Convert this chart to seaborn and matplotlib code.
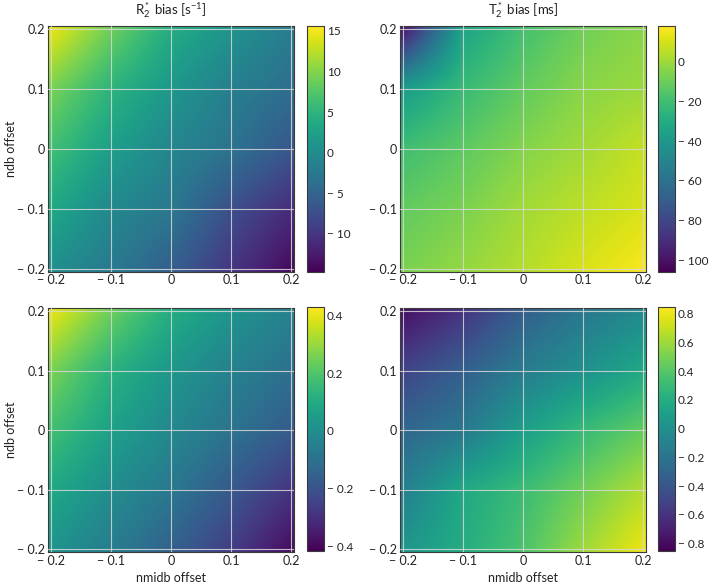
import numpy as np
import matplotlib
matplotlib.use("Agg")
import matplotlib.pyplot as plt
import seaborn as sns

# ---------------- data ----------------
# grid positions (nmidb offset along x, ndb offset along y)
nmidb_offsets = [-0.2, -0.1, 0.0, 0.1, 0.2]
ndb_offsets = [0.2, 0.1, 0.0, -0.1, -0.2]          # rows, top to bottom
axis_ticks = [-0.2, -0.1, 0.0, 0.1, 0.2]
axis_tick_labels = ["\u2212 0.2", "\u2212 0.1", "0", "0.1", "0.2"]

# R2* bias [s^-1] (top-left)
r2_bias_top = [
    [14.7, 9.0, 4.0, 1.0, -2.0],
    [9.5, 5.0, 1.4, -1.7, -3.8],
    [6.5, 2.3, -0.8, -3.2, -6.5],
    [3.5, -0.5, -2.6, -7.4, -11.0],
    [0.4, -2.3, -5.6, -10.0, -14.0],
]
# T2* bias [ms] (top-right)
t2_bias_top = [
    [-100.0, -34.0, -19.0, -9.0, -4.0],
    [-38.0, -22.0, -12.0, -4.0, -0.5],
    [-20.0, -13.0, -5.0, 0.6, 7.0],
    [-12.0, -6.8, 0.6, 5.6, 10.6],
    [-7.0, -2.0, 4.0, 10.6, 17.0],
]
# bottom-left
bias_bottom_left = [
    [0.405, 0.244, 0.109, 0.024, -0.043],
    [0.261, 0.126, 0.033, -0.043, -0.102],
    [0.177, 0.067, -0.018, -0.094, -0.170],
    [0.092, -0.001, -0.077, -0.178, -0.288],
    [0.024, -0.060, -0.153, -0.263, -0.390],
]
# bottom-right
bias_bottom_right = [
    [-0.78, -0.60, -0.34, -0.17, -0.05],
    [-0.51, -0.34, -0.14, 0.00, 0.17],
    [-0.29, -0.17, 0.10, 0.29, 0.44],
    [-0.12, 0.17, 0.31, 0.48, 0.65],
    [0.05, 0.20, 0.37, 0.60, 0.80],
]

color_ranges = [(-14.7, 15.6), (-106.0, 18.0), (-0.415, 0.43), (-0.85, 0.85)]
cbar_ticks = [
    [-10, -5, 0, 5, 10, 15],
    [-100, -80, -60, -40, -20, 0],
    [-0.4, -0.2, 0, 0.2, 0.4],
    [-0.8, -0.6, -0.4, -0.2, 0, 0.2, 0.4, 0.6, 0.8],
]
cbar_tick_labels = [
    ["\u2212 10", "\u2212 5", "0", "5", "10", "15"],
    ["\u2212 100", "\u2212 80", "\u2212 60", "\u2212 40", "\u2212 20", "0"],
    ["\u2212 0.4", "\u2212 0.2", "0", "0.2", "0.4"],
    ["\u2212 0.8", "\u2212 0.6", "\u2212 0.4", "\u2212 0.2", "0", "0.2", "0.4", "0.6", "0.8"],
]
titles = ["R$_2^*$ bias [s$^{-1}$]", "T$_2^*$ bias [ms]", None, None]
ylabel_text = "ndb offset"
xlabel_text = "nmidb offset"

# ---------------- style ----------------
sns.set_theme(style="white")
plt.rcParams["font.family"] = ["Lato", "DejaVu Sans"]
plt.rcParams["mathtext.fontset"] = "custom"
plt.rcParams["mathtext.rm"] = "Lato"
plt.rcParams["mathtext.it"] = "Lato"
cmap = sns.color_palette("viridis", as_cmap=True)

W, H = 709, 585
fig = plt.figure(figsize=(W / 100, H / 100), dpi=100)
fig.patch.set_facecolor("white")

def px_rect(x0, y0, x1, y1):
    return [x0 / W, 1 - y1 / H, (x1 - x0) / W, (y1 - y0) / H]

ax_rects = [
    px_rect(47.7, 25.7, 294.0, 271.7),
    px_rect(400.0, 25.7, 646.0, 271.7),
    px_rect(47.7, 308.0, 294.0, 552.3),
    px_rect(400.0, 308.0, 646.0, 552.3),
]
cb_rects = [
    px_rect(306.7, 26.0, 324.0, 272.0),
    px_rect(658.0, 26.0, 675.0, 272.0),
    px_rect(306.7, 306.7, 324.0, 550.7),
    px_rect(658.0, 306.7, 675.0, 550.7),
]
fields = [r2_bias_top, t2_bias_top, bias_bottom_left, bias_bottom_right]

step = nmidb_offsets[1] - nmidb_offsets[0]
extent = [nmidb_offsets[0] - step / 2, nmidb_offsets[-1] + step / 2,
          ndb_offsets[-1] - step / 2, ndb_offsets[0] + step / 2]

spine_col = "#3a3a3a"
fs = 9
for i in range(4):
    ax = fig.add_axes(ax_rects[i])
    vmin, vmax = color_ranges[i]
    im = ax.imshow(np.array(fields[i]), cmap=cmap, vmin=vmin, vmax=vmax,
                   extent=extent, origin="upper", interpolation="bilinear",
                   interpolation_stage="data", aspect="auto")
    ax.set_xlim(-0.205, 0.205)
    ax.set_ylim(-0.205, 0.205)
    ax.set_xticks(axis_ticks)
    ax.set_yticks(axis_ticks)
    ax.set_xticklabels(axis_tick_labels)
    ax.set_yticklabels(axis_tick_labels)
    ax.grid(True, color="#d8d8d8", linewidth=0.8, alpha=0.85)
    ax.set_axisbelow(False)
    ax.tick_params(direction="in", length=3, width=0.6, color="#bbbbbb",
                   labelsize=fs, pad=2, labelcolor="#222222")
    for s in ax.spines.values():
        s.set_color(spine_col)
        s.set_linewidth(0.8)
    if titles[i]:
        ax.set_title(titles[i], fontsize=fs + 0.5, pad=8, color="#222222")
    if i in (0, 2):
        ax.set_ylabel(ylabel_text, fontsize=fs, color="#222222")
        ax.yaxis.set_label_coords(-0.125, 0.5)
    if i in (2, 3):
        ax.set_xlabel(xlabel_text, fontsize=fs, color="#222222")
        ax.xaxis.set_label_coords(0.5, -0.08)

    cax = fig.add_axes(cb_rects[i])
    cb = fig.colorbar(im, cax=cax, ticks=cbar_ticks[i])
    cb.set_ticklabels(cbar_tick_labels[i])
    cb.outline.set_edgecolor(spine_col)
    cb.outline.set_linewidth(0.8)
    cax.tick_params(direction="in", length=4, width=0.6, color="#bbbbbb",
                    left=True, right=True, labelsize=8.5, pad=2,
                    labelcolor="#222222")

fig.savefig("out.png", dpi=100, facecolor="white")
